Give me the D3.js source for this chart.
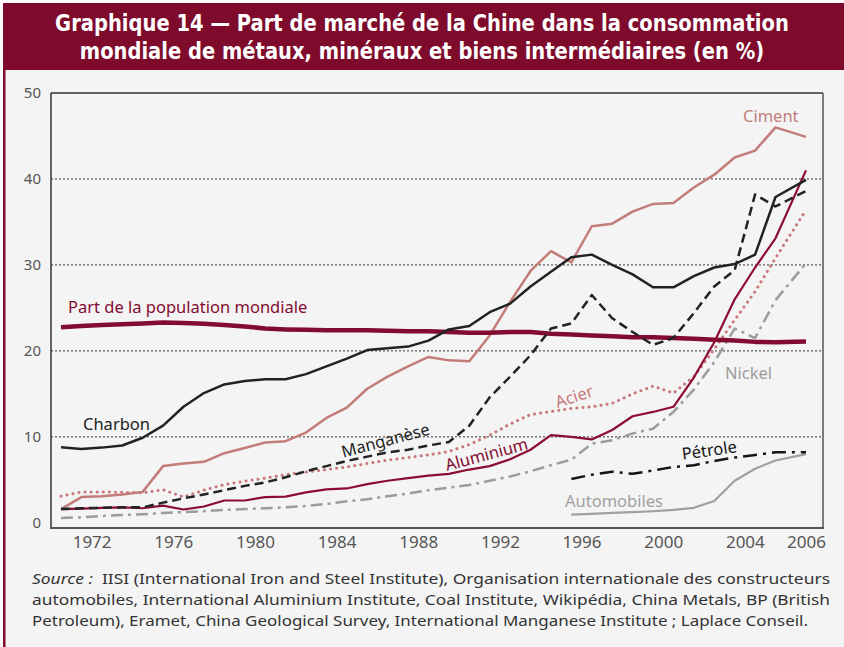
<!DOCTYPE html>
<html>
<head>
<meta charset="utf-8">
<script src="https://cdn.jsdelivr.net/npm/d3@7"></script>
<style>
  body { margin: 0; background: #ffffff; }
  svg { display: block; font-family: "Noto Sans", sans-serif; }
</style>
</head>
<body>
<div id="chart"></div>
<script>
// Years of the series (one point per year)
var years = d3.range(1970, 2007);
var recentYears = d3.range(1995, 2007);

// Values (%)
var population = [22.75, 22.9, 23.0, 23.1, 23.2, 23.3, 23.25, 23.15, 23.0, 22.85,
                  22.6, 22.5, 22.45, 22.4, 22.4, 22.4, 22.35, 22.3, 22.3, 22.2,
                  22.1, 22.1, 22.2, 22.2, 22.0, 21.9, 21.8, 21.7, 21.6, 21.6,
                  21.5, 21.4, 21.3, 21.2, 21.05, 21.0, 21.1];
var charbon = [8.8, 8.6, 8.75, 9.0, 9.9, 11.3, 13.5, 15.1, 16.1, 16.5,
               16.7, 16.7, 17.3, 18.2, 19.1, 20.1, 20.3, 20.5, 21.2, 22.5,
               22.9, 24.5, 25.5, 27.5, 29.2, 30.9, 31.2, 30.0, 28.9, 27.4,
               27.4, 28.7, 29.7, 30.1, 31.2, 37.9, 39.9];
var ciment = [1.6, 3.0, 3.1, 3.3, 3.6, 6.6, 6.9, 7.1, 8.1, 8.7,
              9.35, 9.5, 10.5, 12.2, 13.4, 15.6, 17.0, 18.2, 19.3, 18.9,
              18.8, 21.8, 25.7, 29.3, 31.6, 30.3, 34.5, 34.8, 36.2, 37.1,
              37.2, 39.0, 40.5, 42.5, 43.3, 46.0, 44.9];
var manganese = [1.6, 1.7, 1.75, 1.8, 1.8, 2.35, 2.85, 3.3, 3.8, 4.3,
                 4.7, 5.3, 6.0, 6.6, 7.2, 7.7, 8.2, 8.5, 9.0, 9.4,
                 11.3, 14.6, 17.0, 19.5, 22.6, 23.2, 26.5, 23.8, 22.2, 20.7,
                 21.5, 24.4, 27.5, 29.4, 38.2, 36.8, 38.6];
var aluminium = [1.6, 1.65, 1.75, 1.8, 1.7, 2.0, 1.55, 1.9, 2.6, 2.6,
                 3.0, 3.05, 3.55, 3.9, 4.0, 4.5, 4.9, 5.2, 5.5, 5.7,
                 6.2, 6.6, 7.4, 8.5, 10.2, 10.0, 9.7, 10.8, 12.4, 12.9,
                 13.5, 16.9, 21.0, 26.0, 29.7, 33.1, 41.0];
var acier = [3.1, 3.6, 3.6, 3.55, 3.5, 3.85, 3.0, 3.8, 4.45, 4.85,
             5.2, 5.6, 5.9, 6.2, 6.5, 6.9, 7.3, 7.6, 7.9, 8.3,
             9.1, 10.2, 11.5, 12.6, 12.95, 13.3, 13.5, 13.9, 15.0, 15.9,
             15.1, 17.0, 20.2, 23.6, 26.9, 30.8, 36.4];
var nickel = [0.55, 0.65, 0.8, 0.9, 1.0, 1.15, 1.25, 1.35, 1.5, 1.6,
              1.7, 1.8, 1.95, 2.2, 2.5, 2.75, 3.1, 3.4, 3.8, 4.1,
              4.4, 4.9, 5.4, 6.0, 6.7, 7.35, 9.2, 9.6, 10.4, 10.95,
              12.9, 15.5, 18.7, 22.6, 21.5, 25.9, 30.2];
var petrole = [5.1, 5.6, 5.95, 5.7, 6.1, 6.5, 6.7, 7.2, 7.6, 7.9, 8.2, 8.2];
var automobiles = [0.95, 1.05, 1.15, 1.25, 1.35, 1.5, 1.75, 2.55, 4.9, 6.3, 7.25, 8.0];

// Axis ticks
var yTicks = [0, 10, 20, 30, 40, 50];
var xTickYears = [1972, 1976, 1980, 1984, 1988, 1992, 1996, 2000, 2004, 2006];

var width = 844, height = 647;

var svg = d3.select("#chart")
            .append("svg")
            .attr("width", width)
            .attr("height", height);

// Frame: title band, light panel, left red rule
svg.append("rect")
   .attr("x", 0).attr("y", 0)
   .attr("width", width).attr("height", height)
   .attr("fill", "#f4f4f4");
svg.append("rect")
   .attr("x", 0).attr("y", 0)
   .attr("width", width).attr("height", 3)
   .attr("fill", "#ffffff");
svg.append("rect")
   .attr("x", 0).attr("y", 0)
   .attr("width", 3).attr("height", height)
   .attr("fill", "#ffffff");
svg.append("rect")
   .attr("x", 3).attr("y", 3)
   .attr("width", width - 3).attr("height", 67)
   .attr("fill", "#7e0b2c");
svg.append("rect")
   .attr("x", 3).attr("y", 70)
   .attr("width", 2.5).attr("height", height - 70)
   .attr("fill", "#7e0b2c");

// Title: a bold face squeezed horizontally (same factor for both lines)
// to get the condensed look of the original
var titleLines = ["Graphique 14 \u2014 Part de march\u00e9 de la Chine dans la consommation",
                  "mondiale de m\u00e9taux, min\u00e9raux et biens interm\u00e9diaires (en %)"];
var titles = svg.selectAll("text.title")
   .data(titleLines)
   .enter()
   .append("text")
   .attr("class", "title")
   .attr("text-anchor", "middle")
   .attr("fill", "#ffffff")
   .attr("font-family", "DejaVu Sans, sans-serif")
   .attr("font-size", "23px")
   .attr("font-weight", "bold")
   .text(function(d) { return d; });
var squeeze = 734 / titles.node().getComputedTextLength();
titles.attr("transform", function(d, i) {
    return "translate(422," + (31 + i * 28) + ") scale(" + squeeze + ",1)";
});

// Scales (each year sits in the middle of its band; the last point reaches the frame)
var xScale = d3.scaleLinear()
               .domain([1970, 2005, 2006])
               .range([61, 775.5, 806]);

var yScale = d3.scaleLinear()
               .domain([-0.6, 50])
               .range([528, 93]);

var left = 51, right = 823;

// Dotted grid lines
svg.selectAll("line.grid")
   .data([10, 20, 30, 40])
   .enter()
   .append("line")
   .attr("class", "grid")
   .attr("x1", left).attr("x2", right)
   .attr("y1", function(d) { return yScale(d); })
   .attr("y2", function(d) { return yScale(d); })
   .attr("stroke", "#333")
   .attr("stroke-width", 1)
   .attr("stroke-dasharray", "2,2");

// Y axis labels
var yAxis = svg.append("g")
   .attr("transform", "translate(" + left + ",0)")
   .call(d3.axisLeft(yScale).tickValues(yTicks).tickSize(0).tickPadding(10));
yAxis.select(".domain").remove();
yAxis.selectAll("text")
     .attr("font-family", "Noto Sans, sans-serif")
     .attr("font-size", "15px")
     .attr("fill", "#555");

// X axis labels: placed at the start of the year band, the last one at the end
var xAxis = svg.append("g")
   .attr("transform", "translate(0," + 528 + ")")
   .call(d3.axisBottom(xScale)
           .tickValues(xTickYears.map(function(y) { return y === 2006 ? 2006 : y - 0.5; }))
           .tickFormat(function(d) { return d === 2006 ? "2006" : String(d + 0.5); })
           .tickSize(0).tickPadding(8));
xAxis.select(".domain").remove();
xAxis.selectAll("text")
     .attr("font-family", "Noto Sans, sans-serif")
     .attr("font-size", "17px")
     .attr("fill", "#555");

// Plot frame
svg.append("line")
   .attr("x1", left).attr("x2", right).attr("y1", 93).attr("y2", 93)
   .attr("stroke", "#333").attr("stroke-width", 1.5);
svg.append("line")
   .attr("x1", right).attr("x2", right).attr("y1", 93).attr("y2", 528)
   .attr("stroke", "#555").attr("stroke-width", 1.5);
svg.append("line")
   .attr("x1", left).attr("x2", left).attr("y1", 93).attr("y2", 529)
   .attr("stroke", "#333").attr("stroke-width", 1.5);
svg.append("line")
   .attr("x1", left - 1).attr("x2", right + 1).attr("y1", 528).attr("y2", 528)
   .attr("stroke", "#555").attr("stroke-width", 2);

// Series definitions
var series = [
    { name: "ciment", xs: years, values: ciment, color: "#c27c7a", width: 2.5, dash: null },
    { name: "automobiles", xs: recentYears, values: automobiles, color: "#a0a0a0", width: 2.2, dash: null },
    { name: "nickel", xs: years, values: nickel, color: "#9c9c9c", width: 2.5, dash: "12,5,3,5" },
    { name: "petrole", xs: recentYears, values: petrole, color: "#151515", width: 2.5, dash: "14,6,3,6" },
    { name: "acier", xs: years, values: acier, color: "#c8787a", width: 3, dash: "0.1,6" },
    { name: "population", xs: years, values: population, color: "#820b30", width: 4.5, dash: null },
    { name: "aluminium", xs: years, values: aluminium, color: "#8c0d32", width: 2.2, dash: null },
    { name: "manganese", xs: years, values: manganese, color: "#222", width: 2.5, dash: "9,5" },
    { name: "charbon", xs: years, values: charbon, color: "#222", width: 2.5, dash: null }
];

var line = d3.line()
             .x(function(d) { return xScale(d[0]); })
             .y(function(d) { return yScale(d[1]); });

svg.selectAll("path.series")
   .data(series)
   .enter()
   .append("path")
   .attr("class", "series")
   .attr("fill", "none")
   .attr("stroke", function(d) { return d.color; })
   .attr("stroke-width", function(d) { return d.width; })
   .attr("stroke-dasharray", function(d) { return d.dash; })
   .attr("stroke-linecap", function(d) { return d.name === "acier" ? "round" : "butt"; })
   .attr("stroke-linejoin", "round")
   .attr("d", function(d) {
       return line(d.xs.map(function(y, i) { return [y, d.values[i]]; }));
   });

// Line labels
var labels = [
    { text: "Ciment", x: 743, y: 122, color: "#c27c7a", angle: 0, anchor: "start" },
    { text: "Part de la population mondiale", x: 68, y: 313, color: "#820b30", angle: 0, anchor: "start" },
    { text: "Charbon", x: 83, y: 430, color: "#222", angle: 0, anchor: "start" },
    { text: "Mangan\u00e8se", x: 387, y: 446, color: "#222", angle: -15, anchor: "middle" },
    { text: "Aluminium", x: 488, y: 460, color: "#820b30", angle: -15, anchor: "middle" },
    { text: "Acier", x: 576, y: 402, color: "#c8787a", angle: -18, anchor: "middle" },
    { text: "Nickel", x: 725, y: 379, color: "#9c9c9c", angle: 0, anchor: "start" },
    { text: "P\u00e9trole", x: 710, y: 456, color: "#151515", angle: -8, anchor: "middle" },
    { text: "Automobiles", x: 565, y: 507, color: "#a0a0a0", angle: 0, anchor: "start" }
];

svg.selectAll("text.label")
   .data(labels)
   .enter()
   .append("text")
   .attr("class", "label")
   .attr("transform", function(d) { return "translate(" + d.x + "," + d.y + ") rotate(" + d.angle + ")"; })
   .attr("text-anchor", function(d) { return d.anchor; })
   .attr("fill", function(d) { return d.color; })
   .attr("font-size", "16.5px")
   .text(function(d) { return d.text; });

// Source note
var source = svg.append("g").attr("fill", "#333").attr("font-size", "15px");
var s1 = source.append("text")
   .attr("x", 32).attr("y", 584)
   .attr("textLength", 798)
   .attr("lengthAdjust", "spacingAndGlyphs");
s1.append("tspan").attr("font-style", "italic").text("Source :");
s1.append("tspan").text("\u00a0\u00a0IISI (International Iron and Steel Institute), Organisation internationale des constructeurs");
source.append("text")
   .attr("x", 32).attr("y", 605)
   .attr("textLength", 798)
   .attr("lengthAdjust", "spacingAndGlyphs")
   .text("automobiles, International Aluminium Institute, Coal Institute, Wikip\u00e9dia, China Metals, BP (British");
source.append("text")
   .attr("x", 32).attr("y", 626)
   .attr("textLength", 776)
   .attr("lengthAdjust", "spacingAndGlyphs")
   .text("Petroleum), Eramet, China Geological Survey, International Manganese Institute ; Laplace Conseil.");
</script>
</body>
</html>
